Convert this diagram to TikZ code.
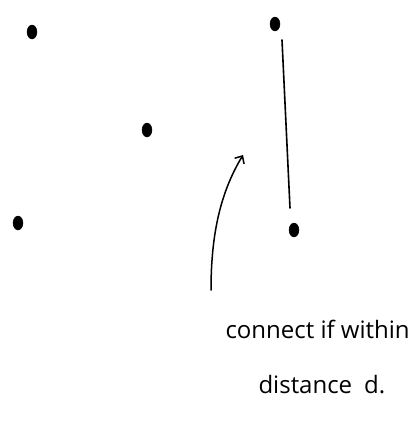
\documentclass[tikz,border=0pt]{standalone}
\usepackage{fontspec}
\setmainfont{Open Sans}
\usetikzlibrary{arrows.meta, shapes.geometric}
\begin{document}
\begin{tikzpicture}[x=1pt, y=-1pt, dot/.style={draw, ellipse, fill, inner sep=0pt, minimum width=10pt, minimum height=14pt}, >={Straight Barb[length=6pt, width=11pt]}]
                    \useasboundingbox (0,0) rectangle (417,424);
                    % Puntos
                    \node[dot] (P1) at (32,32) {};
                    \node[dot] (P2) at (275,24) {};
                    \node[dot] (P3) at (147,130) {};
                    \node[dot] (P4) at (18,223) {};
                    \node[dot] (P5) at (294,230) {};

                    % Arista entre puntos cercanos
                    \draw[line width=1.6pt, line cap=round] ([shift={(7,16)}]P2.center) -- ([shift={(-4,-22)}]P5.center);

                    % Texto y flecha
                    \node[anchor=base west, font=\fontsize{24}{27}\selectfont] (txt) at (222,338) {connect if within};
                    \node[anchor=base west, font=\fontsize{24}{27}\selectfont] (txt2) at (255,393) {distance\enspace d.};
                    \coordinate (tail) at (211,290);
                    \coordinate (tip) at (243,155);
                    \draw[->, line width=1.5pt, line cap=round] (tail) .. controls (211,230) and (222,190) .. (tip);
                \end{tikzpicture}
\end{document}
